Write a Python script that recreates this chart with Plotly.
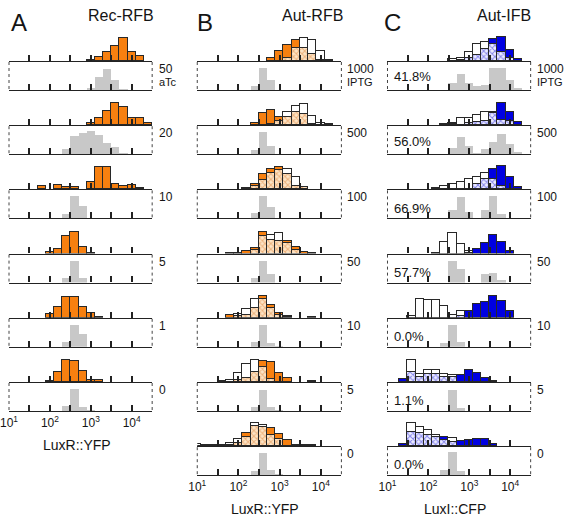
import plotly.graph_objects as go

W, H = 565, 520
FONT = "Liberation Sans, Arial, sans-serif"

# bin centres (log10 of fluorescence), bins are 0.2 decade wide
BIN_EXP = [1.0, 1.2, 1.4, 1.6, 1.8, 2.0, 2.2, 2.4, 2.6, 2.8, 3.0, 3.2, 3.4, 3.6, 3.8, 4.0, 4.2, 4.4]
BIN_WIDTH = 0.2
TICK_EXP = [1.0, 1.5, 2.0, 2.5, 3.0, 3.5, 4.0, 4.5]
TICK_TEXT = ["10<sup>1</sup>", " ", "10<sup>2</sup>", " ", "10<sup>3</sup>", " ", "10<sup>4</sup>", " "]

# ---------------- Panel A : Rec-RFB (aTc) ----------------
A_LABELS = ["50", "20", "10", "5", "1", "0"]
A1_fp = [0, 0, 0, 0, 0, 0, 0, 0, 0, 0, 1.5, 4, 9, 15, 23, 9, 5, 0]
A1_ref = [0, 0, 0, 0, 0, 0, 0, 0, 0, 0, 2, 13, 21, 10, 1, 0, 0, 0]
A2_fp = [0, 0, 0, 0, 0, 0, 0, 0, 0, 0, 2, 7, 14, 22, 18, 7, 7, 2]
A2_ref = [0, 0, 0, 0, 0, 0, 0, 5, 18, 21, 23, 19, 11, 7, 1, 0, 0, 0]
A3_fp = [0, 0, 0, 0, 3, 0, 4, 2, 2, 0, 7, 22, 22, 5, 3, 4, 1, 0]
A3_ref = [0, 0, 0, 0, 0, 0, 0, 4, 22, 12, 0, 0, 0, 0, 0, 0, 0, 0]
A4_fp = [0, 0, 0, 0, 0, 2, 5, 18, 22, 7, 1, 0, 0, 0, 0, 0, 0, 0]
A4_ref = [0, 0, 0, 0, 0, 0, 0, 5, 22, 5, 0, 0, 0, 0, 0, 0, 0, 0]
A5_fp = [0, 0, 0, 0, 0, 4, 11, 21, 21, 11, 5, 1, 0, 0, 0, 0, 0, 0]
A5_ref = [0, 0, 0, 0, 0, 0, 0, 5, 22, 13, 0, 0, 0, 0, 0, 0, 0, 0]
A6_fp = [0, 0, 0, 0, 0, 1, 10, 22, 21, 11, 2, 2, 0, 0, 0, 0, 0, 0]
A6_ref = [0, 0, 0, 0, 0, 0, 0, 5, 22, 4, 1, 0, 0, 0, 0, 0, 0, 0]

# ---------------- Panel B : Aut-RFB (IPTG) ----------------
B_LABELS = ["1000", "500", "100", "50", "10", "5", "0"]
B1_or = [0, 0, 0, 0, 0, 0, 0, 0, 0, 3, 10, 16, 21, 13, 7, 1, 0, 0]
B1_wh = [0, 0, 0, 0, 0, 0, 0, 0, 0, 0, 0, 3, 13, 23, 21, 10, 1, 0]
B1_ref = [0, 0, 0, 0, 0, 0, 0, 4, 22, 10, 0, 0, 0, 0, 0, 0, 0, 0]
B2_or = [0, 0, 0, 0, 0, 0, 0, 2, 12, 15, 8, 8, 13, 11, 1, 0, 0, 0]
B2_wh = [0, 0, 0, 0, 0, 0, 0, 0, 0, 1, 4, 13, 19, 21, 9, 2, 1, 0]
B2_ref = [0, 0, 0, 0, 0, 0, 0, 4, 22, 8, 0, 0, 0, 0, 0, 0, 0, 0]
B3_or = [0, 0, 0, 0, 0, 0, 1, 5, 15, 20, 22, 15, 3, 2, 0, 0, 0, 0]
B3_wh = [0, 0, 0, 0, 0, 0, 0, 3, 9, 16, 19, 20, 12, 2, 0, 0, 0, 0]
B3_ref = [0, 0, 0, 0, 0, 0, 0, 5, 22, 11, 0, 0, 0, 0, 0, 0, 0, 0]
B4_or = [0, 0, 0, 0, 1, 1, 3, 6, 22, 14, 13, 13, 7, 2, 1, 0, 0, 0]
B4_wh = [0, 0, 0, 0, 0, 0, 0, 4, 18, 19, 21, 11, 4, 0, 0, 0, 0, 0]
B4_ref = [0, 0, 0, 0, 0, 0, 0, 5, 22, 9, 0, 0, 0, 0, 0, 0, 0, 0]
B5_or = [0, 0, 0, 0, 3, 2, 3, 10, 22, 13, 5, 2, 0, 0, 1, 0, 0, 0]
B5_wh = [0, 0, 0, 0, 0, 4, 9, 19, 19, 10, 3, 1, 0, 0, 0, 0, 0, 0]
B5_ref = [0, 0, 0, 0, 0, 0, 0, 5, 22, 4, 1, 0, 0, 0, 0, 0, 0, 0]
B6_or = [0, 0, 0, 0, 0, 2, 4, 10, 21, 20, 9, 4, 0, 0, 1, 0, 0, 0]
B6_wh = [0, 0, 0, 1, 2, 9, 18, 22, 15, 3, 0, 0, 0, 0, 0, 0, 0, 0]
B6_ref = [0, 0, 0, 0, 0, 0, 0, 4, 21, 4, 1, 0, 0, 0, 0, 0, 0, 0]
B7_or = [0, 0, 0, 0, 1, 3, 13, 20, 19, 18, 12, 6, 1, 1, 1, 0, 0, 0]
B7_wh = [2, 1, 1, 1, 3, 7, 9, 23, 21, 11, 7, 0, 0, 0, 0, 0, 0, 0]
B7_ref = [0, 0, 0, 0, 0, 0, 0, 4, 22, 5, 1, 0, 0, 0, 0, 0, 0, 0]

# ---------------- Panel C : Aut-IFB (IPTG) ----------------
C_LABELS = ["1000", "500", "100", "50", "10", "5", "0"]
C_PERCENT = ["41.8%", "56.0%", "66.9%", "57.7%", "0.0%", "1.1%", "0.0%"]
C1_bl = [0, 0, 0, 0, 0, 0, 0, 0, 0, 1, 3, 6, 12, 22, 24, 11, 2, 0]
C1_wh = [0, 0, 0, 0, 0, 0, 0, 0, 2, 3, 9, 17, 19, 17, 9, 3, 0, 0]
C1_ref = [0, 0, 0, 0, 0, 0, 0, 0, 7, 16, 7, 4, 5, 22, 22, 10, 2, 0]
C2_bl = [0, 0, 0, 0, 0, 0, 0, 0, 1, 0, 2, 3, 4, 13, 22, 13, 3, 0]
C2_wh = [0, 0, 0, 0, 0, 0, 0, 1, 2, 7, 7, 10, 13, 12, 5, 4, 0, 0]
C2_ref = [0, 0, 0, 0, 0, 0, 0, 0, 6, 17, 8, 1, 5, 12, 20, 10, 2, 0]
C3_bl = [0, 0, 0, 0, 0, 0, 0, 0, 0, 0, 0, 5, 10, 20, 23, 12, 2, 0]
C3_wh = [0, 0, 0, 0, 0, 0, 1, 3, 5, 7, 10, 12, 16, 10, 3, 0, 0, 0]
C3_ref = [0, 0, 0, 0, 0, 0, 0, 0, 8, 21, 6, 0, 8, 22, 4, 0, 0, 0]
C4_bl = [0, 0, 0, 0, 0, 0, 0, 0, 0, 0, 1, 5, 11, 19, 12, 3, 0, 0]
C4_wh = [0, 0, 0, 0, 0, 0, 1, 12, 21, 10, 3, 0, 0, 0, 0, 0, 0, 0]
C4_ref = [0, 0, 0, 0, 0, 0, 0, 0, 22, 14, 0, 0, 9, 10, 3, 0, 0, 0]
C5_bl = [0, 0, 0, 0, 0, 0, 0, 0, 0, 2, 7, 14, 16, 22, 17, 7, 0, 0]
C5_wh = [0, 0, 0, 2, 19, 18, 18, 12, 3, 7, 0, 0, 0, 0, 0, 0, 0, 0]
C5_ref = [0, 0, 0, 0, 0, 0, 0, 4, 22, 5, 0, 0, 0, 0, 0, 0, 0, 0]
C6_bl = [0, 0, 3, 10, 5, 8, 8, 5, 5, 7, 12, 9, 4, 1, 0, 0, 0, 0]
C6_wh = [0, 0, 0, 22, 8, 12, 12, 8, 7, 0, 0, 0, 0, 0, 0, 0, 0, 0]
C6_ref = [0, 0, 0, 0, 0, 0, 0, 0, 21, 3, 0, 0, 0, 0, 0, 0, 0, 0]
C7_bl = [0, 0, 2, 14, 13, 11, 9, 9, 4, 5, 6, 7, 7, 2, 0, 0, 0, 0]
C7_wh = [0, 0, 0, 23, 19, 16, 11, 6, 8, 0, 0, 0, 0, 0, 0, 0, 0, 0]
C7_ref = [0, 0, 0, 0, 0, 0, 0, 5, 23, 4, 0, 0, 0, 0, 0, 0, 0, 0]

# ---------------- styling ----------------
ORANGE = "rgb(247,128,16)"
BLUE = "rgb(0,0,225)"
GRAY = "rgb(200,200,200)"
EDGE = "rgb(40,40,40)"
TEXT = "rgb(20,20,20)"
PEACH_BG = "rgb(252,228,198)"
PEACH_FG = "rgb(222,124,46)"
LAV_BG = "rgb(236,236,255)"
LAV_FG = "rgb(30,30,215)"

COL_TOP_PX = 27     # height (px / data units) of coloured panel
GRAY_TOP_PX = 26    # height of grey reference panel
ROW0 = 61.0
ROW_STEP = 64.2

columns = [
    dict(key="A", x0=0, x1=146, labels=A_LABELS, unit="aTc", lab_x=151,
         rows=[(A1_fp, None, A1_ref), (A2_fp, None, A2_ref), (A3_fp, None, A3_ref),
               (A4_fp, None, A4_ref), (A5_fp, None, A5_ref), (A6_fp, None, A6_ref)],
         color=ORANGE, pfg=PEACH_FG, pbg=PEACH_BG, xtitle="LuxR::YFP",
         title="Rec-RFB", title_x=114, letter_x=0),
    dict(key="B", x0=192, x1=339, labels=B_LABELS, unit="IPTG", lab_x=343,
         rows=[(B1_or, B1_wh, B1_ref), (B2_or, B2_wh, B2_ref), (B3_or, B3_wh, B3_ref),
               (B4_or, B4_wh, B4_ref), (B5_or, B5_wh, B5_ref), (B6_or, B6_wh, B6_ref),
               (B7_or, B7_wh, B7_ref)],
         color=ORANGE, pfg=PEACH_FG, pbg=PEACH_BG, xtitle="LuxR::YFP",
         title="Aut-RFB", title_x=310, letter_x=190),
    dict(key="C", x0=386, x1=532, labels=C_LABELS, unit="IPTG", lab_x=536,
         rows=[(C1_bl, C1_wh, C1_ref), (C2_bl, C2_wh, C2_ref), (C3_bl, C3_wh, C3_ref),
               (C4_bl, C4_wh, C4_ref), (C5_bl, C5_wh, C5_ref), (C6_bl, C6_wh, C6_ref),
               (C7_bl, C7_wh, C7_ref)],
         color=BLUE, pfg=LAV_FG, pbg=LAV_BG, xtitle="LuxI::CFP",
         title="Aut-IFB", title_x=505, letter_x=380),
]
PCT_OFF = [15, 16, 19, 19, 19, 18, 18]


def nz(v):
    return [x if x > 0 else None for x in v]


def px(xp):
    return xp / W


def py(yp):
    return 1 - yp / H


fig = go.Figure()
layout = {}
shapes = []
ann = []
n = 0


def add_axes(idx, x0, x1, ytop, ybot, yrange, show_labels):
    xs = "xaxis" if idx == 1 else f"xaxis{idx}"
    ys = "yaxis" if idx == 1 else f"yaxis{idx}"
    layout[xs] = dict(domain=[px(x0), px(x1)], range=[1.0, 4.5], anchor=f"y{idx}",
                      tickmode="array", tickvals=TICK_EXP,
                      ticktext=TICK_TEXT,
                      showticklabels=show_labels, ticklabeloverflow="allow",
                      ticks="inside", ticklen=6, tickwidth=1.5, tickcolor="#222",
                      showline=True, linecolor="#222", linewidth=1.4,
                      showgrid=False, zeroline=False, fixedrange=True,
                      tickfont=dict(size=12, color=TEXT, family=FONT))
    layout[ys] = dict(domain=[py(ybot), py(ytop)], range=yrange, anchor=f"x{idx}",
                      visible=False, showgrid=False, zeroline=False, fixedrange=True)


for col in columns:
    nrows = len(col["rows"])
    for r, (main, white, ref) in enumerate(col["rows"]):
        base = ROW0 + ROW_STEP * r
        # ---- coloured histogram panel ----
        n += 1
        add_axes(n, col["x0"], col["x1"], base - COL_TOP_PX, base, [0, COL_TOP_PX], False)
        xa, ya = f"x{n}", f"y{n}"
        if white is None:
            fig.add_trace(go.Bar(x=BIN_EXP, y=nz(main), width=BIN_WIDTH, xaxis=xa, yaxis=ya,
                                 marker=dict(color=col["color"], line=dict(color=EDGE, width=1)),
                                 showlegend=False, hoverinfo="skip"))
        else:
            both = [min(a, b) for a, b in zip(main, white)]
            main_ex = [max(0, a - b) for a, b in zip(main, white)]
            white_ex = [max(0, b - a) for a, b in zip(main, white)]
            fig.add_trace(go.Bar(x=BIN_EXP, y=nz(both), width=BIN_WIDTH, xaxis=xa, yaxis=ya,
                                 marker=dict(color=col["pbg"], line=dict(color=EDGE, width=1),
                                             pattern=dict(shape="x", fgcolor=col["pfg"],
                                                          bgcolor=col["pbg"], size=4, solidity=0.42)),
                                 showlegend=False, hoverinfo="skip"))
            fig.add_trace(go.Bar(x=BIN_EXP, y=nz(main_ex), width=BIN_WIDTH,
                                 xaxis=xa, yaxis=ya,
                                 marker=dict(color=col["color"], line=dict(color=EDGE, width=1)),
                                 showlegend=False, hoverinfo="skip"))
            fig.add_trace(go.Bar(x=BIN_EXP, y=nz(white_ex), width=BIN_WIDTH, xaxis=xa, yaxis=ya,
                                 marker=dict(color="white", line=dict(color=EDGE, width=1)),
                                 showlegend=False, hoverinfo="skip"))
        # ---- grey reference panel ----
        n += 1
        gtop, gbot = base + 3, base + 3 + GRAY_TOP_PX
        add_axes(n, col["x0"], col["x1"], gtop, gbot, [0, GRAY_TOP_PX], r == nrows - 1)
        fig.add_trace(go.Bar(x=BIN_EXP, y=nz(ref), width=BIN_WIDTH, xaxis=f"x{n}", yaxis=f"y{n}",
                             marker=dict(color=GRAY, line=dict(width=0)),
                             showlegend=False, hoverinfo="skip"))
        # dotted side borders of grey panel
        for xe in (col["x0"], col["x1"]):
            shapes.append(dict(type="line", xref="paper", yref="paper",
                               x0=px(xe), x1=px(xe), y0=py(base + 1), y1=py(gbot),
                               line=dict(color="#444", width=1, dash="dot")))
        # condition labels
        ann.append(dict(text=col["labels"][r], x=px(col["lab_x"]), y=py(base + 8),
                        xanchor="left", yanchor="middle", font=dict(size=12)))
        if r == 0:
            ann.append(dict(text=col["unit"], x=px(col["lab_x"]), y=py(base + 21),
                            xanchor="left", yanchor="middle", font=dict(size=11)))
        if col["key"] == "C":
            ann.append(dict(text=C_PERCENT[r], x=px(391), y=py(base + PCT_OFF[r]),
                            xanchor="left", yanchor="middle", font=dict(size=13)))
    # axis title
    last_base = ROW0 + ROW_STEP * (nrows - 1) + 3 + GRAY_TOP_PX
    ann.append(dict(text=col["xtitle"], x=px((col["x0"] + col["x1"]) / 2 - 4),
                    y=py(last_base + 34), xanchor="center", yanchor="middle",
                    font=dict(size=14)))
    ann.append(dict(text=col["title"], x=px(col["title_x"]), y=py(15),
                    xanchor="center", yanchor="middle", font=dict(size=16)))
    ann.append(dict(text=col["key"], x=px(col["letter_x"]), y=py(23),
                    xanchor="left", yanchor="middle", font=dict(size=24)))

for a in ann:
    a["font"] = dict(family=FONT, color=TEXT, size=a["font"]["size"])
    a.update(xref="paper", yref="paper", showarrow=False)

fig.update_layout(
    width=W, height=H, margin=dict(l=0, r=0, t=0, b=0),
    paper_bgcolor="white", plot_bgcolor="rgba(0,0,0,0)",
    barmode="stack", bargap=0, showlegend=False,
    font=dict(family=FONT, size=12, color=TEXT),
    shapes=shapes, annotations=ann, **layout,
)

fig.write_html("out.html")
